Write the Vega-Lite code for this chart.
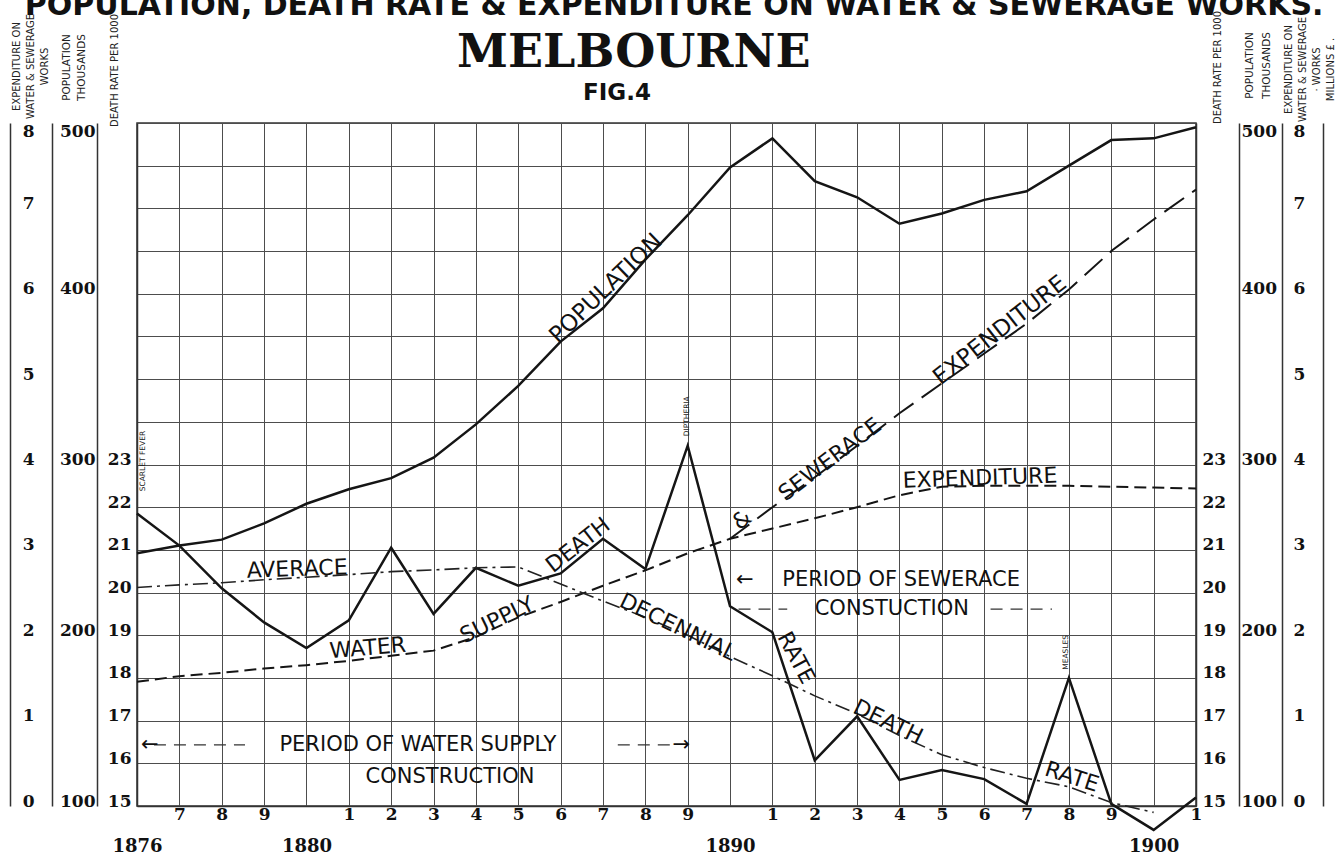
{
  "$schema": "https://vega.github.io/schema/vega-lite/v6.json",
  "autosize": {"type": "none"},
  "width": 1059,
  "height": 683,
  "padding": {"left": 137, "top": 123, "right": 139, "bottom": 49},
  "background": "#ffffff",
  "config": {
    "view": {"stroke": "#333333", "strokeWidth": 1.5},
    "axis": {
      "labelFont": "DejaVu Serif",
      "labelFontWeight": "bold",
      "labelFontSize": 17,
      "labelColor": "#111111",
      "titleFont": "DejaVu Sans",
      "titleFontWeight": "normal",
      "titleColor": "#222222",
      "domainColor": "#333333",
      "domainWidth": 1.5,
      "ticks": false,
      "grid": false,
      "labelOverlap": false
    }
  },
  "datasets": {
    "pop": [
      {"year": 1876, "pop": 248}, {"year": 1877, "pop": 252.5}, {"year": 1878, "pop": 256},
      {"year": 1879, "pop": 265.5}, {"year": 1880, "pop": 277}, {"year": 1881, "pop": 285.5},
      {"year": 1882, "pop": 292}, {"year": 1883, "pop": 304}, {"year": 1884, "pop": 323.5},
      {"year": 1885, "pop": 346}, {"year": 1886, "pop": 372}, {"year": 1887, "pop": 391.5},
      {"year": 1888, "pop": 420}, {"year": 1889, "pop": 446}, {"year": 1890, "pop": 474},
      {"year": 1891, "pop": 491}, {"year": 1892, "pop": 466}, {"year": 1893, "pop": 456.5},
      {"year": 1894, "pop": 441}, {"year": 1895, "pop": 447}, {"year": 1896, "pop": 455},
      {"year": 1897, "pop": 460}, {"year": 1898, "pop": 475}, {"year": 1899, "pop": 490},
      {"year": 1900, "pop": 491}, {"year": 1901, "pop": 497.5}
    ],
    "dr": [
      {"year": 1876, "rate": 21.85}, {"year": 1877, "rate": 21.1}, {"year": 1878, "rate": 20.1},
      {"year": 1879, "rate": 19.3}, {"year": 1880, "rate": 18.7}, {"year": 1881, "rate": 19.35},
      {"year": 1882, "rate": 21.05}, {"year": 1883, "rate": 19.5}, {"year": 1884, "rate": 20.58},
      {"year": 1885, "rate": 20.16}, {"year": 1886, "rate": 20.45}, {"year": 1887, "rate": 21.26},
      {"year": 1888, "rate": 20.55}, {"year": 1889, "rate": 23.44}, {"year": 1890, "rate": 19.68},
      {"year": 1891, "rate": 19.07}, {"year": 1892, "rate": 16.07}, {"year": 1893, "rate": 17.1},
      {"year": 1894, "rate": 15.61}, {"year": 1895, "rate": 15.84}, {"year": 1896, "rate": 15.63},
      {"year": 1897, "rate": 15.05}, {"year": 1898, "rate": 18.0}, {"year": 1899, "rate": 15.05},
      {"year": 1900, "rate": 14.44}, {"year": 1901, "rate": 15.2}
    ],
    "avg": [
      {"year": 1876, "rate": 20.12}, {"year": 1877, "rate": 20.18}, {"year": 1878, "rate": 20.23},
      {"year": 1879, "rate": 20.3}, {"year": 1880, "rate": 20.36}, {"year": 1881, "rate": 20.42},
      {"year": 1882, "rate": 20.49}, {"year": 1883, "rate": 20.53}, {"year": 1884, "rate": 20.58},
      {"year": 1885, "rate": 20.6}, {"year": 1886, "rate": 20.2}, {"year": 1887, "rate": 19.8},
      {"year": 1888, "rate": 19.42}, {"year": 1889, "rate": 19.0}, {"year": 1890, "rate": 18.5},
      {"year": 1891, "rate": 18.05}, {"year": 1892, "rate": 17.58}, {"year": 1893, "rate": 17.16},
      {"year": 1894, "rate": 16.65}, {"year": 1895, "rate": 16.2}, {"year": 1896, "rate": 15.9},
      {"year": 1897, "rate": 15.65}, {"year": 1898, "rate": 15.45}, {"year": 1899, "rate": 15.08},
      {"year": 1900, "rate": 14.85}
    ],
    "exp": [
      {"year": 1876, "series": "Water supply", "value": 1.455},
      {"year": 1877, "series": "Water supply", "value": 1.52},
      {"year": 1878, "series": "Water supply", "value": 1.56},
      {"year": 1879, "series": "Water supply", "value": 1.61},
      {"year": 1880, "series": "Water supply", "value": 1.65},
      {"year": 1881, "series": "Water supply", "value": 1.7},
      {"year": 1882, "series": "Water supply", "value": 1.76},
      {"year": 1883, "series": "Water supply", "value": 1.82},
      {"year": 1884, "series": "Water supply", "value": 1.98},
      {"year": 1885, "series": "Water supply", "value": 2.21},
      {"year": 1886, "series": "Water supply", "value": 2.39},
      {"year": 1887, "series": "Water supply", "value": 2.58},
      {"year": 1888, "series": "Water supply", "value": 2.76},
      {"year": 1889, "series": "Water supply", "value": 2.96},
      {"year": 1890, "series": "Water supply", "value": 3.13},
      {"year": 1891, "series": "Water supply", "value": 3.25},
      {"year": 1892, "series": "Water supply", "value": 3.37},
      {"year": 1893, "series": "Water supply", "value": 3.5},
      {"year": 1894, "series": "Water supply", "value": 3.64},
      {"year": 1895, "series": "Water supply", "value": 3.74},
      {"year": 1896, "series": "Water supply", "value": 3.75},
      {"year": 1897, "series": "Water supply", "value": 3.75},
      {"year": 1898, "series": "Water supply", "value": 3.75},
      {"year": 1899, "series": "Water supply", "value": 3.74},
      {"year": 1900, "series": "Water supply", "value": 3.73},
      {"year": 1901, "series": "Water supply", "value": 3.72},
      {"year": 1890, "series": "Water supply & sewerage", "value": 3.13},
      {"year": 1891, "series": "Water supply & sewerage", "value": 3.5},
      {"year": 1892, "series": "Water supply & sewerage", "value": 3.85},
      {"year": 1893, "series": "Water supply & sewerage", "value": 4.22},
      {"year": 1894, "series": "Water supply & sewerage", "value": 4.6},
      {"year": 1895, "series": "Water supply & sewerage", "value": 4.95},
      {"year": 1896, "series": "Water supply & sewerage", "value": 5.3},
      {"year": 1897, "series": "Water supply & sewerage", "value": 5.65},
      {"year": 1898, "series": "Water supply & sewerage", "value": 6.05},
      {"year": 1899, "series": "Water supply & sewerage", "value": 6.5},
      {"year": 1900, "series": "Water supply & sewerage", "value": 6.87},
      {"year": 1901, "series": "Water supply & sewerage", "value": 7.22}
    ]
  },
  "layer": [
    {
      "data": {"name": "pop"},
      "mark": {"type": "line", "color": "#151515", "strokeWidth": 2.5},
      "encoding": {
        "x": {"field": "year", "type": "quantitative", "scale": {"domain": [1876, 1901], "nice": false, "zero": false}, "axis": null},
        "y": {"field": "pop", "type": "quantitative", "scale": {"domain": [100, 500], "nice": false, "zero": false},
          "axis": {"orient": "left", "offset": 40, "values": [100, 200, 300, 400, 500], "format": "d", "labelPadding": 2,
            "labelBaseline": {"condition": {"test": "datum.value == 500", "value": "top"}, "value": "alphabetic"},
            "domain": true, "title": ["POPULATION", "THOUSANDS"], "titleAngle": 270, "titleX": -36, "titleY": -56,
            "titleAlign": "center", "titleBaseline": "top", "titleFontSize": 10.5, "titleLineHeight": 15}}
      }
    },
    {
      "data": {"name": "dr"},
      "mark": {"type": "line", "color": "#151515", "strokeWidth": 2.5},
      "encoding": {
        "x": {"field": "year", "type": "quantitative", "scale": {"domain": [1876, 1901], "nice": false, "zero": false},
          "axis": {"orient": "bottom", "values": [1876,1877,1878,1879,1880,1881,1882,1883,1884,1885,1886,1887,1888,1889,1890,1891,1892,1893,1894,1895,1896,1897,1898,1899,1900,1901],
            "labelExpr": "(datum.value % 10 == 0 || datum.value == 1876) ? '' : substring(toString(datum.value), 3, 4)",
            "grid": true, "gridColor": "#4d4d4d", "gridWidth": 1, "domain": true, "labelPadding": 0, "labelBaseline": "top",
            "labelFlush": false, "labelFontSize": 17, "title": null}},
        "y": {"field": "rate", "type": "quantitative", "scale": {"domain": [15, 31], "nice": false, "zero": false},
          "axis": {"orient": "left", "offset": 0, "values": [15,16,17,18,19,20,21,22,23,24,25,26,27,28,29,30,31],
            "labelExpr": "datum.value <= 23 ? toString(datum.value) : ''",
            "grid": true, "gridColor": "#4d4d4d", "gridWidth": 1, "labelBaseline": "alphabetic", "labelPadding": 6,
            "domain": true, "title": "DEATH RATE PER 1000", "titleAngle": 270, "titleX": -28, "titleY": -53,
            "titleAlign": "center", "titleBaseline": "top", "titleFontSize": 10}}
      }
    },
    {
      "data": {"name": "exp"},
      "mark": {"type": "line", "color": "#151515", "strokeWidth": 2},
      "encoding": {
        "x": {"field": "year", "type": "quantitative", "scale": {"domain": [1876, 1901], "nice": false, "zero": false},
          "axis": {"orient": "bottom", "values": [1876, 1880, 1890, 1900], "format": "d", "domain": false, "grid": false,
            "labelPadding": 31, "labelBaseline": "top", "labelFlush": false, "labelFontSize": 18, "title": null}},
        "y": {"field": "value", "type": "quantitative", "scale": {"domain": [0, 8], "nice": false, "zero": false},
          "axis": {"orient": "left", "offset": 85, "values": [0,1,2,3,4,5,6,7,8], "format": "d", "labelPadding": 18,
            "labelBaseline": {"condition": {"test": "datum.value == 8", "value": "top"}, "value": "alphabetic"},
            "domain": true, "title": ["EXPENDITURE ON", "WATER & SEWERAGE", "WORKS"], "titleAngle": 270, "titleX": -41, "titleY": -57,
            "titleAlign": "center", "titleBaseline": "top", "titleFontSize": 10, "titleLineHeight": 14}},
        "strokeDash": {"field": "series", "type": "nominal",
          "scale": {"domain": ["Water supply", "Water supply & sewerage"], "range": [[12, 6], [24, 10]]}, "legend": null}
      }
    },
    {
      "data": {"name": "avg"},
      "mark": {"type": "line", "color": "#222222", "strokeWidth": 1.6, "strokeDash": [15, 5, 3, 5]},
      "encoding": {
        "x": {"field": "year", "type": "quantitative", "scale": {"domain": [1876, 1901], "nice": false, "zero": false}, "axis": null},
        "y": {"field": "rate", "type": "quantitative", "scale": {"domain": [15, 31], "nice": false, "zero": false},
          "axis": {"orient": "right", "offset": 0, "values": [15,16,17,18,19,20,21,22,23], "format": "d", "labelPadding": 6,
            "labelBaseline": "alphabetic", "domain": true, "title": "DEATH RATE PER 1000", "titleAngle": 270, "titleX": 16, "titleY": -56,
            "titleAlign": "center", "titleBaseline": "top", "titleFontSize": 10}}
      }
    },
    {
      "data": {"values": [{"x": 1887.07, "y": 403, "label": "POPULATION"}]},
      "mark": {"type": "text", "angle": 316, "fontSize": 23, "font": "DejaVu Sans", "color": "#111111"},
      "encoding": {
        "x": {"field": "x", "type": "quantitative", "scale": {"domain": [1876, 1901], "nice": false, "zero": false}, "axis": null},
        "y": {"field": "y", "type": "quantitative", "scale": {"domain": [100, 500], "nice": false, "zero": false},
          "axis": {"orient": "right", "offset": 43, "values": [100, 200, 300, 400, 500], "format": "d", "labelPadding": 2,
            "labelBaseline": {"condition": {"test": "datum.value == 500", "value": "top"}, "value": "alphabetic"},
            "domain": true, "title": ["POPULATION", "THOUSANDS"], "titleAngle": 270, "titleX": 5, "titleY": -58,
            "titleAlign": "center", "titleBaseline": "top", "titleFontSize": 10.5, "titleLineHeight": 17}},
        "text": {"field": "label"}
      }
    },
    {
      "data": {"values": [{"x": 1896.37, "y": 5.57, "label": "EXPENDITURE"}]},
      "mark": {"type": "text", "angle": 322, "fontSize": 23, "font": "DejaVu Sans", "color": "#111111"},
      "encoding": {
        "x": {"field": "x", "type": "quantitative", "scale": {"domain": [1876, 1901], "nice": false, "zero": false}, "axis": null},
        "y": {"field": "y", "type": "quantitative", "scale": {"domain": [0, 8], "nice": false, "zero": false},
          "axis": {"orient": "right", "offset": 86, "values": [0,1,2,3,4,5,6,7,8], "format": "d", "labelPadding": 11,
            "labelBaseline": {"condition": {"test": "datum.value == 8", "value": "top"}, "value": "alphabetic"},
            "domain": true, "title": ["EXPENDITURE ON", "WATER & SEWERAGE", "· WORKS", "MILLIONS £ ."], "titleAngle": 270, "titleX": 1, "titleY": -54,
            "titleAlign": "center", "titleBaseline": "top", "titleFontSize": 10, "titleLineHeight": 14}},
        "text": {"field": "label"}
      }
    },
    {
      "data": {"values": [{"x": 1888.68, "y": 33.53, "label": "POPULATION, DEATH RATE & EXPENDITURE ON WATER & SEWERAGE WORKS."}]},
      "mark": {"type": "text", "baseline": "alphabetic", "fontSize": 30, "font": "DejaVu Sans", "fontWeight": "bold", "color": "#111111"},
      "encoding": {
        "x": {"field": "x", "type": "quantitative", "scale": {"domain": [1876, 1901], "nice": false, "zero": false}, "axis": null},
        "y": {"field": "y", "type": "quantitative", "scale": {"domain": [15, 31], "nice": false, "zero": false},
          "axis": {"orient": "left", "offset": 127, "labels": false, "domain": true, "title": null}},
        "text": {"field": "label"}
      }
    },
    {
      "data": {"values": [
        {"x": 1876.4, "x2": 1878.55, "y": 16.43},
        {"x": 1887.35, "x2": 1888.7, "y": 16.43},
        {"x": 1890.2, "x2": 1891.35, "y": 19.61},
        {"x": 1896.15, "x2": 1897.6, "y": 19.61}
      ]},
      "mark": {"type": "rule", "color": "#333333", "strokeWidth": 1.3, "strokeDash": [12, 8]},
      "encoding": {
        "x": {"field": "x", "type": "quantitative", "scale": {"domain": [1876, 1901], "nice": false, "zero": false}, "axis": null},
        "x2": {"field": "x2"},
        "y": {"field": "y", "type": "quantitative", "scale": {"domain": [15, 31], "nice": false, "zero": false},
          "axis": {"orient": "right", "offset": 127, "labels": false, "domain": true, "title": null}}
      }
    },
    {
      "data": {"values": [{"x": 1887.73, "y": 32.31, "label": "MELBOURNE"}]},
      "mark": {"type": "text", "baseline": "alphabetic", "fontSize": 46, "font": "DejaVu Serif", "fontWeight": "bold", "color": "#111111"},
      "encoding": {
        "x": {"field": "x", "type": "quantitative", "scale": {"domain": [1876, 1901], "nice": false, "zero": false}, "axis": null},
        "y": {"field": "y", "type": "quantitative", "scale": {"domain": [15, 31], "nice": false, "zero": false}, "axis": null},
        "text": {"field": "label"}
      }
    },
    {
      "data": {"values": [{"x": 1887.33, "y": 31.54, "label": "FIG.4"}]},
      "mark": {"type": "text", "baseline": "alphabetic", "fontSize": 23, "font": "DejaVu Sans", "fontWeight": "bold", "color": "#111111"},
      "encoding": {
        "x": {"field": "x", "type": "quantitative", "scale": {"domain": [1876, 1901], "nice": false, "zero": false}, "axis": null},
        "y": {"field": "y", "type": "quantitative", "scale": {"domain": [15, 31], "nice": false, "zero": false}, "axis": null},
        "text": {"field": "label"}
      }
    },
    {
      "data": {"values": [
        {"x": 1882.63, "y": 16.43, "label": "PERIOD  OF  WATER  SUPPLY"},
        {"x": 1883.39, "y": 15.68, "label": "CONSTRUCTION"},
        {"x": 1894.04, "y": 20.29, "label": "PERIOD OF SEWERACE"},
        {"x": 1893.82, "y": 19.61, "label": "CONSTUCTION"},
        {"x": 1876.3, "y": 16.43, "label": "←"},
        {"x": 1888.85, "y": 16.43, "label": "→"},
        {"x": 1890.35, "y": 20.29, "label": "←"}
      ]},
      "mark": {"type": "text", "fontSize": 21, "font": "DejaVu Sans", "color": "#111111"},
      "encoding": {
        "x": {"field": "x", "type": "quantitative", "scale": {"domain": [1876, 1901], "nice": false, "zero": false}, "axis": null},
        "y": {"field": "y", "type": "quantitative", "scale": {"domain": [15, 31], "nice": false, "zero": false}, "axis": null},
        "text": {"field": "label"}
      }
    },
    {
      "data": {"values": [{"x": 1879.78, "y": 20.55, "label": "AVERACE"}]},
      "mark": {"type": "text", "angle": 358, "fontSize": 22, "font": "DejaVu Sans", "color": "#111111"},
      "encoding": {
        "x": {"field": "x", "type": "quantitative", "scale": {"domain": [1876, 1901], "nice": false, "zero": false}, "axis": null},
        "y": {"field": "y", "type": "quantitative", "scale": {"domain": [15, 31], "nice": false, "zero": false}, "axis": null},
        "text": {"field": "label"}
      }
    },
    {
      "data": {"values": [{"x": 1886.41, "y": 21.11, "label": "DEATH"}]},
      "mark": {"type": "text", "angle": 322, "fontSize": 22, "font": "DejaVu Sans", "color": "#111111"},
      "encoding": {
        "x": {"field": "x", "type": "quantitative", "scale": {"domain": [1876, 1901], "nice": false, "zero": false}, "axis": null},
        "y": {"field": "y", "type": "quantitative", "scale": {"domain": [15, 31], "nice": false, "zero": false}, "axis": null},
        "text": {"field": "label"}
      }
    },
    {
      "data": {"values": [{"x": 1888.77, "y": 19.19, "label": "DECENNIAL"}, {"x": 1893.73, "y": 16.97, "label": "DEATH"}]},
      "mark": {"type": "text", "angle": 26, "fontSize": 22, "font": "DejaVu Sans", "color": "#111111"},
      "encoding": {
        "x": {"field": "x", "type": "quantitative", "scale": {"domain": [1876, 1901], "nice": false, "zero": false}, "axis": null},
        "y": {"field": "y", "type": "quantitative", "scale": {"domain": [15, 31], "nice": false, "zero": false}, "axis": null},
        "text": {"field": "label"}
      }
    },
    {
      "data": {"values": [{"x": 1891.56, "y": 18.47, "label": "RATE"}]},
      "mark": {"type": "text", "angle": 62, "fontSize": 22, "font": "DejaVu Sans", "color": "#111111"},
      "encoding": {
        "x": {"field": "x", "type": "quantitative", "scale": {"domain": [1876, 1901], "nice": false, "zero": false}, "axis": null},
        "y": {"field": "y", "type": "quantitative", "scale": {"domain": [15, 31], "nice": false, "zero": false}, "axis": null},
        "text": {"field": "label"}
      }
    },
    {
      "data": {"values": [{"x": 1898.07, "y": 15.68, "label": "RATE"}]},
      "mark": {"type": "text", "angle": 18, "fontSize": 22, "font": "DejaVu Sans", "color": "#111111"},
      "encoding": {
        "x": {"field": "x", "type": "quantitative", "scale": {"domain": [1876, 1901], "nice": false, "zero": false}, "axis": null},
        "y": {"field": "y", "type": "quantitative", "scale": {"domain": [15, 31], "nice": false, "zero": false}, "axis": null},
        "text": {"field": "label"}
      }
    },
    {
      "data": {"values": [
        {"x": 1876.14, "y": 23.08, "label": "SCARLET  FEVER"},
        {"x": 1888.98, "y": 24.13, "label": "DIPTHERIA"},
        {"x": 1897.93, "y": 18.6, "label": "MEASLES"}
      ]},
      "mark": {"type": "text", "angle": 270, "fontSize": 7.5, "font": "DejaVu Sans", "color": "#222222"},
      "encoding": {
        "x": {"field": "x", "type": "quantitative", "scale": {"domain": [1876, 1901], "nice": false, "zero": false}, "axis": null},
        "y": {"field": "y", "type": "quantitative", "scale": {"domain": [15, 31], "nice": false, "zero": false}, "axis": null},
        "text": {"field": "label"}
      }
    },
    {
      "data": {"values": [{"x": 1881.45, "y": 1.85, "label": "WATER"}]},
      "mark": {"type": "text", "angle": 355, "fontSize": 22, "font": "DejaVu Sans", "color": "#111111"},
      "encoding": {
        "x": {"field": "x", "type": "quantitative", "scale": {"domain": [1876, 1901], "nice": false, "zero": false}, "axis": null},
        "y": {"field": "y", "type": "quantitative", "scale": {"domain": [0, 8], "nice": false, "zero": false}, "axis": null},
        "text": {"field": "label"}
      }
    },
    {
      "data": {"values": [{"x": 1884.5, "y": 2.18, "label": "SUPPLY"}]},
      "mark": {"type": "text", "angle": 334, "fontSize": 22, "font": "DejaVu Sans", "color": "#111111"},
      "encoding": {
        "x": {"field": "x", "type": "quantitative", "scale": {"domain": [1876, 1901], "nice": false, "zero": false}, "axis": null},
        "y": {"field": "y", "type": "quantitative", "scale": {"domain": [0, 8], "nice": false, "zero": false}, "axis": null},
        "text": {"field": "label"}
      }
    },
    {
      "data": {"values": [{"x": 1890.28, "y": 3.35, "label": "&"}, {"x": 1892.36, "y": 4.06, "label": "SEWERACE"}]},
      "mark": {"type": "text", "angle": 323, "fontSize": 22, "font": "DejaVu Sans", "color": "#111111"},
      "encoding": {
        "x": {"field": "x", "type": "quantitative", "scale": {"domain": [1876, 1901], "nice": false, "zero": false}, "axis": null},
        "y": {"field": "y", "type": "quantitative", "scale": {"domain": [0, 8], "nice": false, "zero": false}, "axis": null},
        "text": {"field": "label"}
      }
    },
    {
      "data": {"values": [{"x": 1895.9, "y": 3.84, "label": "EXPENDITURE"}]},
      "mark": {"type": "text", "angle": 358, "fontSize": 22, "font": "DejaVu Sans", "color": "#111111"},
      "encoding": {
        "x": {"field": "x", "type": "quantitative", "scale": {"domain": [1876, 1901], "nice": false, "zero": false}, "axis": null},
        "y": {"field": "y", "type": "quantitative", "scale": {"domain": [0, 8], "nice": false, "zero": false}, "axis": null},
        "text": {"field": "label"}
      }
    }
  ],
  "resolve": {"scale": {"x": "independent", "y": "independent"}}
}
